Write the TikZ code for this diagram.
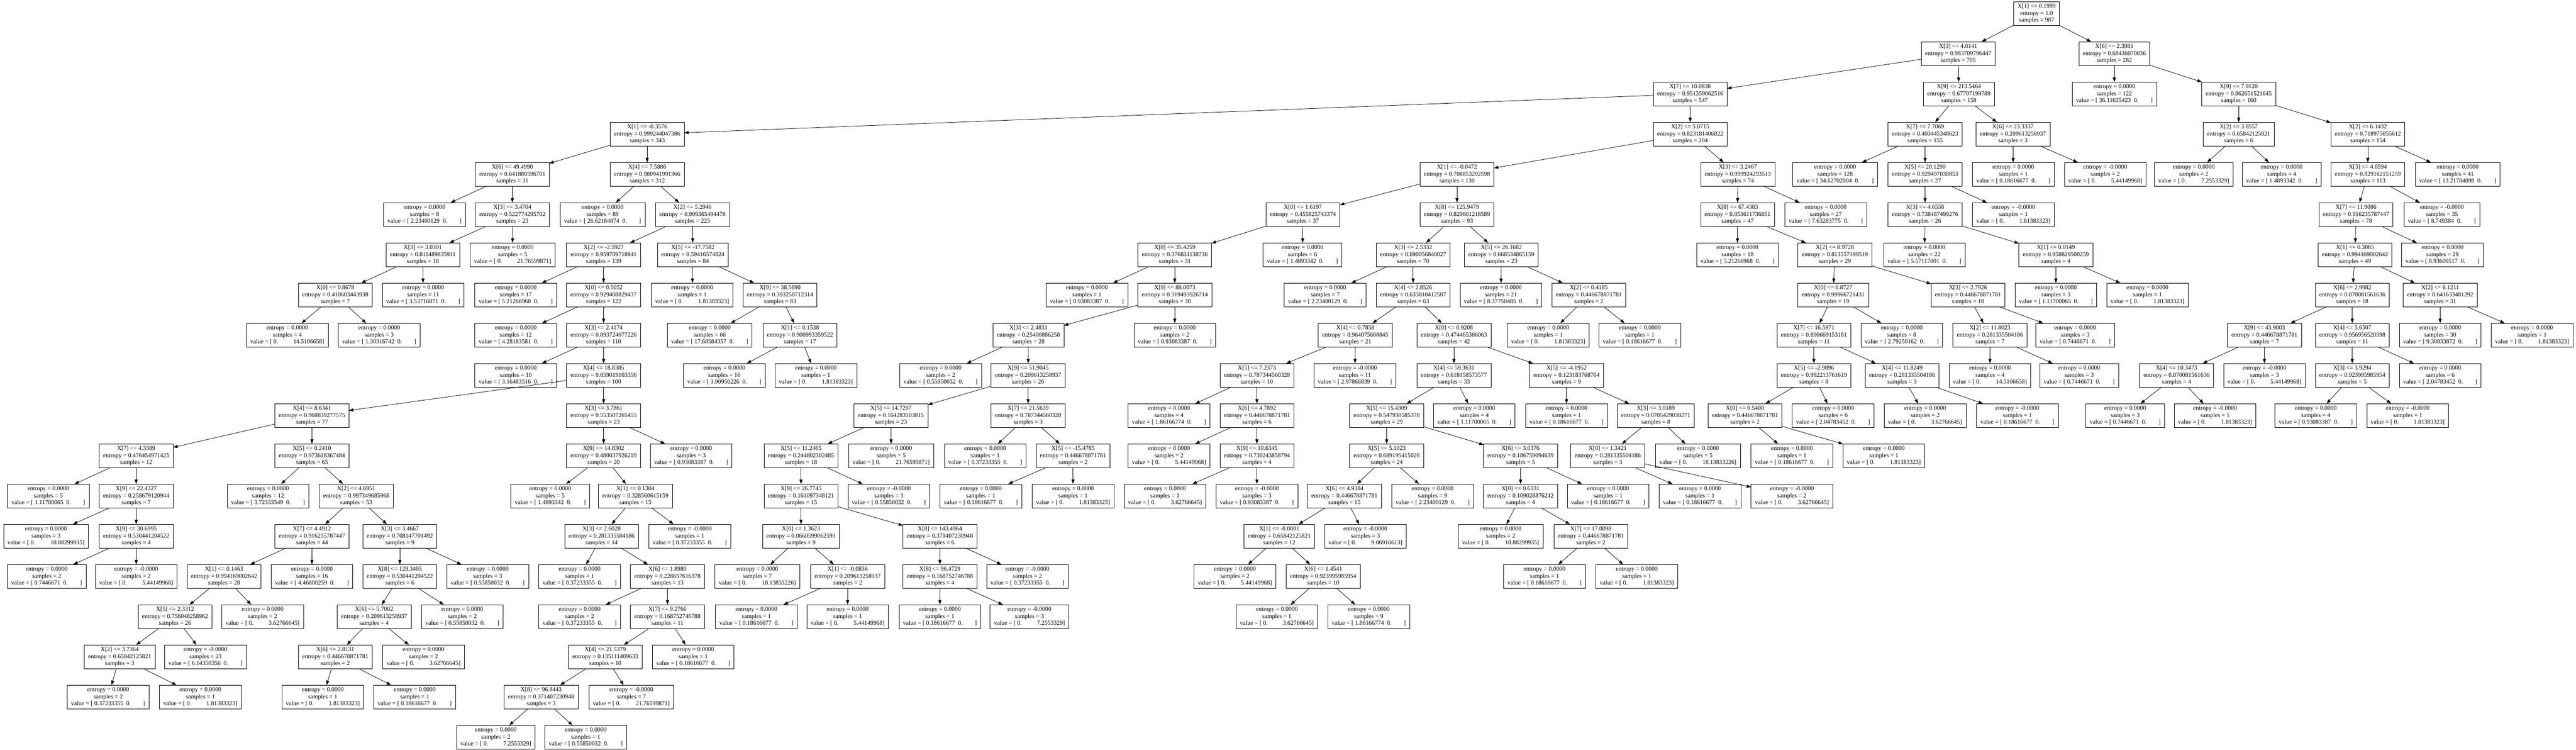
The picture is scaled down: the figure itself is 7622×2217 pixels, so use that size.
\documentclass[tikz,border=0pt]{standalone}
\usepackage{fontspec}
\setmainfont{Liberation Serif}
\usetikzlibrary{arrows.meta}
\tikzset{
  tn/.style={draw, line width=0.6pt, rectangle, align=center, inner xsep=5.8pt, inner ysep=0pt,
    minimum height=35.5pt, outer sep=0pt, font=\fontsize{9}{10.2}\selectfont},
  ed/.style={line width=0.6pt, -{Triangle[length=6.5pt,width=4.6pt]}}
}
\newcommand\SplitN[7]{\node[tn] (#1) at (#2,#3) {X[#4] <= #5\\entropy = #6\\samples = #7};}
\newcommand\LeafN[6]{\node[tn] (#1) at (#2,#3) {entropy = #4\\samples = #5\\value = [ #6]};}
\newcommand\vL[1]{#1\hspace{0.5em}0.\hspace{2em}}
\newcommand\vR[1]{0.\hspace{2.5em}#1}
\begin{document}
\begin{tikzpicture}[x=0.5pt,y=-0.5pt]
\fill[white] (0,0) rectangle (7622,2217);
\useasboundingbox (0,0) rectangle (7622,2217);
% row 0
\SplitN{n0}{6026}{40}{1}{0.1999}{1.0}{987}
% row 1
\SplitN{a1}{5794}{158.9}{3}{4.0141}{0.983709796447}{705}
\SplitN{b1}{6256}{158.9}{6}{2.3981}{0.68436070036}{282}
% row 2
\SplitN{a2}{5001}{277.8}{7}{10.0838}{0.951359062516}{547}
\SplitN{b2}{5796}{277.8}{9}{213.5464}{0.67707199789}{158}
\LeafN{c2}{6256}{277.8}{0.0000}{122}{\vL{36.11635423}}
\SplitN{d2}{6624}{277.8}{9}{7.9120}{0.862651521645}{160}
% row 3
\SplitN{a3}{1915}{396.7}{1}{-0.3576}{0.999244047386}{343}
\SplitN{b3}{5001}{396.7}{2}{5.0715}{0.823181406822}{204}
\SplitN{c3}{5696}{396.7}{7}{7.7069}{0.403445348623}{155}
\SplitN{d3}{5956}{396.7}{6}{23.3337}{0.209613258937}{3}
\SplitN{e3}{6624}{396.7}{2}{3.8557}{0.65842125821}{6}
\SplitN{f3}{7006}{396.7}{2}{6.1432}{0.718975055612}{154}
% row 4
\SplitN{a4}{1516}{515.6}{6}{49.4990}{0.641880596701}{31}
\SplitN{b4}{1915}{515.6}{4}{7.5886}{0.980941991366}{312}
\SplitN{c4}{4311}{515.6}{1}{-0.0472}{0.708853292598}{130}
\SplitN{d4}{5142}{515.6}{3}{3.2467}{0.999924293513}{74}
\LeafN{e4}{5430}{515.6}{0.0000}{128}{\vL{34.62702004}}
\SplitN{f4}{5696}{515.6}{5}{20.1290}{0.929497030853}{27}
\LeafN{g4}{5957}{515.6}{0.0000}{1}{\vL{0.18616677}}
\LeafN{h4}{6229}{515.6}{-0.0000}{2}{\vR{5.44149968}}
\LeafN{i4}{6491}{515.6}{0.0000}{2}{\vR{7.2553329}}
\LeafN{j4}{6751}{515.6}{0.0000}{4}{\vL{1.4893342}}
\SplitN{k4}{7006}{515.6}{3}{4.0594}{0.829162151259}{113}
\LeafN{l4}{7272}{515.6}{0.0000}{41}{\vL{13.21784098}}
% row 5
\LeafN{a5}{1256}{634.5}{0.0000}{8}{\vL{2.23400129}}
\SplitN{b5}{1516}{634.5}{3}{3.4704}{0.522774295702}{23}
\LeafN{c5}{1783}{634.5}{0.0000}{89}{\vL{26.62184874}}
\SplitN{d5}{2049}{634.5}{2}{5.2946}{0.999365494478}{223}
\SplitN{e5}{3855}{634.5}{0}{1.6197}{0.455825743374}{37}
\SplitN{f5}{4311}{634.5}{8}{125.9479}{0.829601218589}{93}
\SplitN{g5}{5141}{634.5}{8}{67.4383}{0.953611736651}{47}
\LeafN{h5}{5402}{634.5}{0.0000}{27}{\vL{7.63283775}}
\SplitN{i5}{5696}{634.5}{3}{4.6558}{0.738487499276}{26}
\LeafN{j5}{5957}{634.5}{-0.0000}{1}{\vR{1.81383323}}
\SplitN{k5}{6971}{634.5}{7}{11.9086}{0.916235787447}{78}
\LeafN{l5}{7225}{634.5}{-0.0000}{35}{\vL{8.749384}}
% row 6
\SplitN{a6}{1251}{753.4}{3}{3.0301}{0.811489835911}{18}
\LeafN{b6}{1517}{753.4}{0.0000}{5}{\vR{21.76599871}}
\SplitN{c6}{1786}{753.4}{2}{-2.5927}{0.959709718841}{139}
\SplitN{d6}{2050}{753.4}{5}{-17.7582}{0.59416574824}{84}
\SplitN{e6}{3476}{753.4}{8}{35.4259}{0.376831138736}{31}
\LeafN{f6}{3854}{753.4}{0.0000}{6}{\vL{1.4893342}}
\SplitN{g6}{4181}{753.4}{3}{2.5332}{0.690056840027}{70}
\SplitN{h6}{4442}{753.4}{5}{26.1682}{0.668534865159}{23}
\LeafN{i6}{5141}{753.4}{0.0000}{18}{\vL{5.21266968}}
\SplitN{j6}{5429}{753.4}{2}{8.9728}{0.813557199519}{29}
\LeafN{k6}{5694}{753.4}{0.0000}{22}{\vL{5.57117001}}
\SplitN{l6}{6083}{753.4}{1}{0.0149}{0.958829500259}{4}
\SplitN{m6}{6968}{753.4}{1}{0.3085}{0.994169002642}{49}
\LeafN{n6}{7227}{753.4}{0.0000}{29}{\vL{8.93600517}}
% row 7
\SplitN{a7}{992}{872.3}{0}{0.8678}{0.410603443938}{7}
\LeafN{b7}{1252}{872.3}{0.0000}{11}{\vL{3.53716871}}
\LeafN{c7}{1526}{872.3}{0.0000}{17}{\vL{5.21266968}}
\SplitN{d7}{1786}{872.3}{0}{0.5052}{0.929408829437}{122}
\LeafN{e7}{2048}{872.3}{0.0000}{1}{\vR{1.81383323}}
\SplitN{f7}{2308}{872.3}{9}{38.5690}{0.393250712314}{83}
\LeafN{g7}{3216}{872.3}{0.0000}{1}{\vL{0.93083387}}
\SplitN{h7}{3476}{872.3}{9}{88.0073}{0.319493926714}{30}
\LeafN{i7}{3921}{872.3}{0.0000}{7}{\vL{2.23400129}}
\SplitN{j7}{4181}{872.3}{4}{2.8526}{0.633810412507}{63}
\LeafN{k7}{4441}{872.3}{0.0000}{21}{\vL{8.37750485}}
\SplitN{l7}{4701}{872.3}{2}{0.4185}{0.446678871781}{2}
\SplitN{m7}{5424}{872.3}{0}{0.8727}{0.99966721431}{19}
\SplitN{n7}{5823}{872.3}{3}{2.7926}{0.446678871781}{10}
\LeafN{o7}{6083}{872.3}{0.0000}{3}{\vL{1.11700065}}
\LeafN{p7}{6354}{872.3}{0.0000}{1}{\vR{1.81383323}}
\SplitN{q7}{6960}{872.3}{6}{2.9982}{0.870081561636}{18}
\SplitN{r7}{7220}{872.3}{2}{6.1211}{0.641633481292}{31}
% row 8
\LeafN{a8}{850}{991.2}{0.0000}{4}{\vR{14.5106658}}
\LeafN{b8}{1122}{991.2}{0.0000}{3}{\vL{1.30316742}}
\LeafN{c8}{1526}{991.2}{0.0000}{12}{\vL{4.28183581}}
\SplitN{d8}{1786}{991.2}{3}{2.4174}{0.893724077226}{110}
\LeafN{e8}{2100}{991.2}{0.0000}{66}{\vL{17.68584357}}
\SplitN{f8}{2367}{991.2}{1}{0.1538}{0.900993359522}{17}
\SplitN{g8}{3043}{991.2}{3}{2.4831}{0.25400886258}{28}
\LeafN{h8}{3476}{991.2}{0.0000}{2}{\vL{0.93083387}}
\SplitN{i8}{4010}{991.2}{4}{0.7858}{0.964075608845}{21}
\SplitN{j8}{4302}{991.2}{0}{0.9208}{0.474465386063}{42}
\LeafN{k8}{4581}{991.2}{0.0000}{1}{\vR{1.81383323}}
\LeafN{l8}{4852}{991.2}{0.0000}{1}{\vL{0.18616677}}
\SplitN{m8}{5367}{991.2}{7}{16.5971}{0.890669153181}{11}
\LeafN{n8}{5627}{991.2}{0.0000}{8}{\vL{2.79250162}}
\SplitN{o8}{5888}{991.2}{2}{11.8023}{0.281335504186}{7}
\LeafN{p8}{6140}{991.2}{0.0000}{3}{\vL{0.7446671}}
\SplitN{q8}{6700}{991.2}{9}{43.9003}{0.446678871781}{7}
\SplitN{r8}{6960}{991.2}{4}{5.6507}{0.956956520598}{11}
\LeafN{s8}{7220}{991.2}{0.0000}{30}{\vL{9.30833872}}
\LeafN{t8}{7492}{991.2}{0.0000}{1}{\vR{1.81383323}}
% row 9
\LeafN{a9}{1526}{1110.1}{0.0000}{10}{\vL{3.16483516}}
\SplitN{b9}{1786}{1110.1}{4}{18.8385}{0.859019103356}{100}
\LeafN{c9}{2143}{1110.1}{0.0000}{16}{\vL{3.90950226}}
\LeafN{d9}{2414}{1110.1}{0.0000}{1}{\vR{1.81383323}}
\LeafN{e9}{2783}{1110.1}{0.0000}{2}{\vL{0.55850032}}
\SplitN{f9}{3042}{1110.1}{9}{51.9045}{0.209613258937}{26}
\SplitN{g9}{3719}{1110.1}{5}{7.2373}{0.787344560328}{10}
\LeafN{h9}{4009}{1110.1}{-0.0000}{11}{\vL{2.97866839}}
\SplitN{i9}{4302}{1110.1}{4}{59.3631}{0.618158573577}{33}
\SplitN{j9}{4635}{1110.1}{5}{-4.1952}{0.123183768764}{9}
\SplitN{k9}{5367}{1110.1}{5}{-2.9896}{0.992213761619}{8}
\SplitN{l9}{5628}{1110.1}{4}{11.8249}{0.281335504186}{3}
\LeafN{m9}{5888}{1110.1}{0.0000}{4}{\vR{14.5106658}}
\LeafN{n9}{6152}{1110.1}{0.0000}{3}{\vL{0.7446671}}
\SplitN{o9}{6440}{1110.1}{4}{10.3473}{0.870081561636}{4}
\LeafN{p9}{6700}{1110.1}{-0.0000}{3}{\vR{5.44149968}}
\SplitN{q9}{6960}{1110.1}{3}{3.9294}{0.923995985954}{5}
\LeafN{r9}{7220}{1110.1}{0.0000}{6}{\vL{2.04783452}}
% row 10
\SplitN{a10}{923}{1229}{4}{8.6341}{0.968839277575}{77}
\SplitN{b10}{1786}{1229}{3}{3.7861}{0.553507265455}{23}
\SplitN{c10}{2636}{1229}{5}{14.7297}{0.164283103815}{23}
\SplitN{d10}{3042}{1229}{7}{21.5639}{0.787344560328}{3}
\LeafN{e10}{3459}{1229}{0.0000}{4}{\vL{1.86166774}}
\SplitN{f10}{3719}{1229}{6}{4.7892}{0.446678871781}{6}
\SplitN{g10}{4103}{1229}{5}{15.4309}{0.547930585378}{29}
\LeafN{h10}{4362}{1229}{0.0000}{4}{\vL{1.11700065}}
\LeafN{i10}{4635}{1229}{0.0000}{1}{\vL{0.18616677}}
\SplitN{j10}{4899}{1229}{3}{3.0189}{0.0705429038271}{8}
\SplitN{k10}{5163}{1229}{0}{0.5400}{0.446678871781}{2}
\LeafN{l10}{5424}{1229}{0.0000}{6}{\vL{2.04783452}}
\LeafN{m10}{5696}{1229}{0.0000}{2}{\vR{3.62766645}}
\LeafN{n10}{5969}{1229}{-0.0000}{1}{\vL{0.18616677}}
\LeafN{o10}{6288}{1229}{0.0000}{3}{\vL{0.7446671}}
\LeafN{p10}{6554}{1229}{-0.0000}{1}{\vR{1.81383323}}
\LeafN{q10}{6852}{1229}{0.0000}{4}{\vL{0.93083387}}
\LeafN{r10}{7124}{1229}{-0.0000}{1}{\vR{1.81383323}}
% row 11
\SplitN{a11}{403}{1347.9}{7}{4.3389}{0.476454971425}{12}
\SplitN{b11}{923}{1347.9}{5}{0.2410}{0.973618367484}{65}
\SplitN{c11}{1786}{1347.9}{9}{14.8302}{0.480037926219}{20}
\LeafN{d11}{2045}{1347.9}{0.0000}{3}{\vL{0.93083387}}
\SplitN{e11}{2370}{1347.9}{5}{11.2465}{0.244802302485}{18}
\LeafN{f11}{2637}{1347.9}{0.0000}{5}{\vR{21.76599871}}
\LeafN{g11}{2915}{1347.9}{0.0000}{1}{\vL{0.37233355}}
\SplitN{h11}{3175}{1347.9}{5}{-15.4785}{0.446678871781}{2}
\LeafN{i11}{3459}{1347.9}{0.0000}{2}{\vR{5.44149968}}
\SplitN{j11}{3719}{1347.9}{9}{10.6345}{0.730243858794}{4}
\SplitN{k11}{4103}{1347.9}{5}{5.1023}{0.689195415026}{24}
\SplitN{l11}{4499}{1347.9}{6}{3.0376}{0.186759094639}{5}
\SplitN{m11}{4757}{1347.9}{0}{1.3421}{0.281335504186}{3}
\LeafN{n11}{5024}{1347.9}{0.0000}{5}{\vR{18.13833226}}
\LeafN{o11}{5302}{1347.9}{0.0000}{1}{\vL{0.18616677}}
\LeafN{p11}{5574}{1347.9}{0.0000}{1}{\vR{1.81383323}}
% row 12
\LeafN{a12}{143}{1466.8}{0.0000}{5}{\vL{1.11700065}}
\SplitN{b12}{403}{1466.8}{9}{22.4327}{0.258679120944}{7}
\LeafN{c12}{793}{1466.8}{0.0000}{12}{\vL{3.72333549}}
\SplitN{d12}{1054}{1466.8}{2}{4.6951}{0.997349685968}{53}
\LeafN{e12}{1628}{1466.8}{0.0000}{5}{\vL{1.4893342}}
\SplitN{f12}{1880}{1466.8}{1}{0.1304}{0.328560615159}{15}
\SplitN{g12}{2370}{1466.8}{9}{26.7745}{0.161097348121}{15}
\LeafN{h12}{2630}{1466.8}{-0.0000}{3}{\vL{0.55850032}}
\LeafN{i12}{2902}{1466.8}{0.0000}{1}{\vL{0.18616677}}
\LeafN{j12}{3175}{1466.8}{0.0000}{1}{\vR{1.81383323}}
\LeafN{k12}{3447}{1466.8}{0.0000}{1}{\vR{3.62766645}}
\LeafN{l12}{3719}{1466.8}{-0.0000}{3}{\vL{0.93083387}}
\SplitN{m12}{3978}{1466.8}{6}{4.9384}{0.446678871781}{15}
\LeafN{n12}{4239}{1466.8}{0.0000}{9}{\vL{2.23400129}}
\SplitN{o12}{4499}{1466.8}{0}{0.6331}{0.109028876242}{4}
\LeafN{p12}{4758}{1466.8}{0.0000}{1}{\vL{0.18616677}}
\LeafN{q12}{5030}{1466.8}{0.0000}{1}{\vL{0.18616677}}
\LeafN{r12}{5302}{1466.8}{-0.0000}{2}{\vR{3.62766645}}
% row 13
\LeafN{a13}{136}{1585.7}{0.0000}{3}{\vR{10.88299935}}
\SplitN{b13}{403}{1585.7}{9}{30.6995}{0.530441204522}{4}
\SplitN{c13}{923}{1585.7}{7}{4.4912}{0.916235787447}{44}
\SplitN{d13}{1183}{1585.7}{3}{3.4667}{0.708147701492}{9}
\SplitN{e13}{1780}{1585.7}{3}{2.6028}{0.281335504186}{14}
\LeafN{f13}{2041}{1585.7}{-0.0000}{1}{\vL{0.37233355}}
\SplitN{g13}{2370}{1585.7}{0}{1.3623}{0.0660599062593}{9}
\SplitN{h13}{2781}{1585.7}{8}{143.4964}{0.371407230948}{6}
\SplitN{i13}{3785}{1585.7}{1}{-0.0001}{0.65842125821}{12}
\LeafN{j13}{4040}{1585.7}{-0.0000}{3}{\vR{9.06916613}}
\LeafN{k13}{4440}{1585.7}{0.0000}{2}{\vR{10.88299935}}
\SplitN{l13}{4707}{1585.7}{7}{17.0098}{0.446678871781}{2}
% row 14
\LeafN{a14}{138}{1704.6}{0.0000}{2}{\vL{0.7446671}}
\LeafN{b14}{403}{1704.6}{-0.0000}{2}{\vR{5.44149968}}
\SplitN{c14}{663}{1704.6}{1}{0.1463}{0.994169002642}{28}
\LeafN{d14}{923}{1704.6}{0.0000}{16}{\vL{4.46800259}}
\SplitN{e14}{1183}{1704.6}{8}{129.3405}{0.530441204522}{6}
\LeafN{f14}{1443}{1704.6}{0.0000}{3}{\vL{0.55850032}}
\LeafN{g14}{1715}{1704.6}{0.0000}{1}{\vL{0.37233355}}
\SplitN{h14}{1975}{1704.6}{6}{1.8980}{0.228657616378}{13}
\LeafN{i14}{2241}{1704.6}{0.0000}{7}{\vR{18.13833226}}
\SplitN{j14}{2508}{1704.6}{1}{-0.0836}{0.209613258937}{2}
\SplitN{k14}{2781}{1704.6}{8}{96.4729}{0.168752746788}{4}
\LeafN{l14}{3040}{1704.6}{-0.0000}{2}{\vL{0.37233355}}
\LeafN{m14}{3654}{1704.6}{0.0000}{2}{\vR{5.44149968}}
\SplitN{n14}{3915}{1704.6}{6}{1.4541}{0.923995985954}{10}
\LeafN{o14}{4570}{1704.6}{0.0000}{1}{\vL{0.18616677}}
\LeafN{p14}{4843}{1704.6}{0.0000}{1}{\vR{1.81383323}}
% row 15
\SplitN{a15}{518}{1823.5}{5}{2.3312}{0.756048258962}{26}
\LeafN{b15}{777}{1823.5}{0.0000}{2}{\vR{3.62766645}}
\SplitN{c15}{1107}{1823.5}{6}{5.7002}{0.209613258937}{4}
\LeafN{d15}{1368}{1823.5}{0.0000}{2}{\vL{0.55850032}}
\LeafN{e15}{1715}{1823.5}{0.0000}{2}{\vL{0.37233355}}
\SplitN{f15}{1975}{1823.5}{7}{9.2766}{0.168752746788}{11}
\LeafN{g15}{2238}{1823.5}{0.0000}{1}{\vL{0.18616677}}
\LeafN{h15}{2508}{1823.5}{0.0000}{1}{\vR{5.44149968}}
\LeafN{i15}{2781}{1823.5}{0.0000}{1}{\vL{0.18616677}}
\LeafN{j15}{3046}{1823.5}{-0.0000}{3}{\vR{7.2553329}}
\LeafN{k15}{3778}{1823.5}{0.0000}{1}{\vR{3.62766645}}
\LeafN{l15}{4050}{1823.5}{0.0000}{9}{\vL{1.86166774}}
% row 16
\SplitN{a16}{354}{1942.4}{2}{3.7364}{0.65842125821}{3}
\LeafN{b16}{608}{1942.4}{-0.0000}{23}{\vL{6.14350356}}
\SplitN{c16}{992}{1942.4}{6}{2.8131}{0.446678871781}{2}
\LeafN{d16}{1253}{1942.4}{0.0000}{2}{\vR{3.62766645}}
\SplitN{e16}{1791}{1942.4}{4}{21.5379}{0.135111409633}{10}
\LeafN{f16}{2051}{1942.4}{0.0000}{1}{\vL{0.18616677}}
% row 17
\LeafN{a17}{320}{2061.3}{0.0000}{2}{\vL{0.37233355}}
\LeafN{b17}{593}{2061.3}{0.0000}{1}{\vR{1.81383323}}
\LeafN{c17}{955}{2061.3}{0.0000}{1}{\vR{1.81383323}}
\LeafN{d17}{1227}{2061.3}{0.0000}{1}{\vL{0.18616677}}
\SplitN{e17}{1601}{2061.3}{8}{96.8443}{0.371407230948}{3}
\LeafN{f17}{1868}{2061.3}{-0.0000}{7}{\vR{21.76599871}}
% row 18
\LeafN{a18}{1467}{2180.2}{0.0000}{2}{\vR{7.2553329}}
\LeafN{b18}{1733}{2180.2}{0.0000}{1}{\vL{0.55850032}}
% edges
\foreach \p/\c in {n0/a1, n0/b1, a1/a2, a1/b2, b1/c2, b1/d2,
  a2/a3, a2/b3, b2/c3, b2/d3, d2/e3, d2/f3,
  a3/a4, a3/b4, b3/c4, b3/d4, c3/e4, c3/f4, d3/g4, d3/h4, e3/i4, e3/j4, f3/k4, f3/l4,
  a4/a5, a4/b5, b4/c5, b4/d5, c4/e5, c4/f5, d4/g5, d4/h5, f4/i5, f4/j5, k4/k5, k4/l5,
  b5/a6, b5/b6, d5/c6, d5/d6, e5/e6, e5/f6, f5/g6, f5/h6, g5/i6, g5/j6, i5/k6, i5/l6, k5/m6, k5/n6,
  a6/a7, a6/b7, c6/c7, c6/d7, d6/e7, d6/f7, e6/g7, e6/h7, g6/i7, g6/j7, h6/k7, h6/l7, j6/m7, j6/n7, l6/o7, l6/p7, m6/q7, m6/r7,
  a7/a8, a7/b8, d7/c8, d7/d8, f7/e8, f7/f8, h7/g8, h7/h8, j7/i8, j7/j8, l7/k8, l7/l8, m7/m8, m7/n8, n7/o8, n7/p8, q7/q8, q7/r8, r7/s8, r7/t8,
  d8/a9, d8/b9, f8/c9, f8/d9, g8/e9, g8/f9, i8/g9, i8/h9, j8/i9, j8/j9, m8/k9, m8/l9, o8/m9, o8/n9, q8/o9, q8/p9, r8/q9, r8/r9,
  b9/a10, b9/b10, f9/c10, f9/d10, g9/e10, g9/f10, i9/g10, i9/h10, j9/i10, j9/j10, k9/k10, k9/l10, l9/m10, l9/n10, o9/o10, o9/p10, q9/q10, q9/r10,
  a10/a11, a10/b11, b10/c11, b10/d11, c10/e11, c10/f11, d10/g11, d10/h11, f10/i11, f10/j11, g10/k11, g10/l11, j10/m11, j10/n11, k10/o11, k10/p11,
  a11/a12, a11/b12, b11/c12, b11/d12, c11/e12, c11/f12, e11/g12, e11/h12, h11/i12, h11/j12, j11/k12, j11/l12, k11/m12, k11/n12, l11/o12, l11/p12, m11/q12, m11/r12,
  b12/a13, b12/b13, d12/c13, d12/d13, f12/e13, f12/f13, g12/g13, g12/h13, m12/i13, m12/j13, o12/k13, o12/l13,
  b13/a14, b13/b14, c13/c14, c13/d14, d13/e14, d13/f14, e13/g14, e13/h14, g13/i14, g13/j14, h13/k14, h13/l14, i13/m14, i13/n14, l13/o14, l13/p14,
  c14/a15, c14/b15, e14/c15, e14/d15, h14/e15, h14/f15, j14/g15, j14/h15, k14/i15, k14/j15, n14/k15, n14/l15,
  a15/a16, a15/b16, c15/c16, c15/d16, f15/e16, f15/f16,
  a16/a17, a16/b17, c16/c17, c16/d17, e16/e17, e16/f17,
  e17/a18, e17/b18}
  {\draw[ed] (\p) -- (\c);}
\end{tikzpicture}
\end{document}
